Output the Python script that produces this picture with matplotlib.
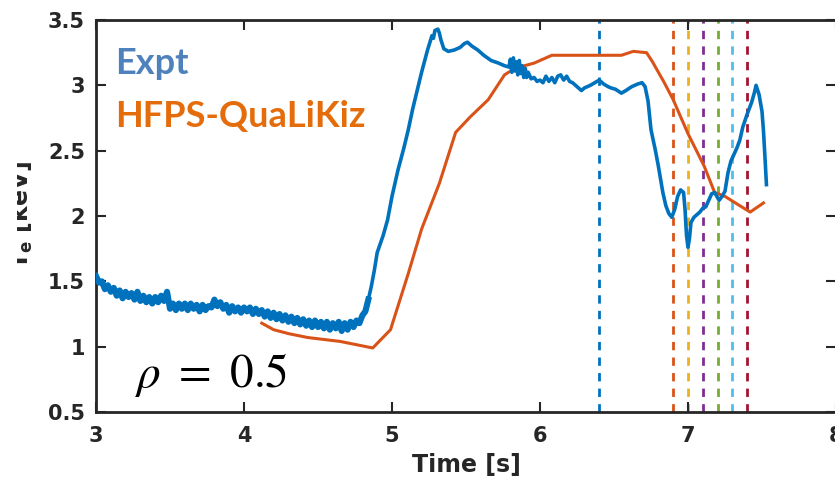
import numpy as np
import matplotlib
matplotlib.use("Agg")
import matplotlib.pyplot as plt
from matplotlib.patches import Rectangle

# measured electron temperature at rho = 0.5 (keV)
t_expt = [3.00, 3.02, 3.04, 3.06, 3.08, 3.10, 3.12, 3.14, 3.16, 3.18,
          3.20, 3.22, 3.24, 3.26, 3.28, 3.30, 3.32, 3.34, 3.36, 3.38,
          3.40, 3.42, 3.44, 3.46, 3.48, 3.50, 3.52, 3.54, 3.56, 3.58,
          3.60, 3.62, 3.64, 3.66, 3.68, 3.70, 3.72, 3.74, 3.76, 3.78,
          3.80, 3.82, 3.84, 3.86, 3.88, 3.90, 3.92, 3.94, 3.96, 3.98,
          4.00, 4.02, 4.04, 4.06, 4.08, 4.10, 4.12, 4.14, 4.16, 4.18,
          4.20, 4.22, 4.24, 4.26, 4.28, 4.30, 4.32, 4.34, 4.36, 4.38,
          4.40, 4.42, 4.44, 4.46, 4.48, 4.50, 4.52, 4.54, 4.56, 4.58,
          4.60, 4.62, 4.64, 4.66, 4.68, 4.70, 4.72, 4.74, 4.76, 4.78,
          4.80, 4.82, 4.84, 4.86, 4.88, 4.90, 4.94, 4.97, 5.00, 5.04,
          5.08, 5.11, 5.14, 5.17, 5.20, 5.24, 5.27, 5.28, 5.29, 5.31,
          5.32, 5.33, 5.35, 5.38, 5.42, 5.46, 5.49, 5.51, 5.54, 5.58,
          5.62, 5.67, 5.72, 5.76, 5.79, 5.80, 5.81, 5.82, 5.83, 5.84,
          5.85, 5.86, 5.87, 5.88, 5.89, 5.90, 5.91, 5.92, 5.94, 5.96,
          5.98, 6.00, 6.02, 6.04, 6.06, 6.08, 6.10, 6.12, 6.14, 6.16,
          6.18, 6.20, 6.22, 6.24, 6.26, 6.28, 6.30, 6.32, 6.34, 6.37,
          6.40, 6.43, 6.46, 6.48, 6.51, 6.55, 6.58, 6.62, 6.66, 6.69,
          6.71, 6.73, 6.75, 6.78, 6.80, 6.83, 6.85, 6.87, 6.89, 6.91,
          6.93, 6.95, 6.97, 6.98, 6.99, 7.00, 7.01, 7.02, 7.04, 7.06,
          7.08, 7.10, 7.12, 7.14, 7.16, 7.18, 7.20, 7.21, 7.23, 7.25,
          7.27, 7.29, 7.31, 7.33, 7.35, 7.37, 7.40, 7.43, 7.45, 7.46,
          7.48, 7.50, 7.51, 7.52, 7.53]
te_expt = [1.54, 1.49, 1.50, 1.44, 1.47, 1.42, 1.45, 1.39, 1.43, 1.37,
           1.42, 1.38, 1.41, 1.36, 1.42, 1.35, 1.39, 1.34, 1.38, 1.33,
           1.38, 1.34, 1.39, 1.35, 1.42, 1.29, 1.33, 1.28, 1.33, 1.29,
           1.33, 1.28, 1.33, 1.29, 1.32, 1.27, 1.32, 1.28, 1.31, 1.30,
           1.36, 1.31, 1.34, 1.29, 1.32, 1.26, 1.31, 1.27, 1.30, 1.26,
           1.30, 1.27, 1.30, 1.25, 1.29, 1.25, 1.28, 1.23, 1.27, 1.22,
           1.26, 1.21, 1.25, 1.20, 1.24, 1.19, 1.23, 1.18, 1.22, 1.17,
           1.21, 1.16, 1.20, 1.15, 1.20, 1.15, 1.19, 1.14, 1.19, 1.13,
           1.18, 1.14, 1.19, 1.12, 1.18, 1.13, 1.19, 1.15, 1.20, 1.18,
           1.24, 1.27, 1.36, 1.46, 1.58, 1.72, 1.85, 1.97, 2.15, 2.35,
           2.52, 2.66, 2.82, 2.96, 3.10, 3.27, 3.38, 3.36, 3.42, 3.43,
           3.40, 3.35, 3.28, 3.26, 3.27, 3.29, 3.32, 3.33, 3.30, 3.27,
           3.23, 3.19, 3.17, 3.15, 3.14, 3.20, 3.10, 3.21, 3.11, 3.18,
           3.08, 3.19, 3.09, 3.15, 3.06, 3.13, 3.06, 3.10, 3.05, 3.06,
           3.03, 3.04, 3.02, 3.07, 3.03, 3.06, 3.02, 3.07, 3.08, 3.04,
           3.07, 3.03, 3.02, 3.00, 2.98, 2.96, 2.98, 2.99, 3.00, 3.02,
           3.04, 3.01, 2.99, 2.98, 2.97, 2.94, 2.96, 2.99, 3.01, 3.02,
           2.99, 2.88, 2.66, 2.50, 2.38, 2.18, 2.08, 2.02, 1.99, 2.05,
           2.15, 2.20, 2.18, 2.05, 1.85, 1.76, 1.83, 1.95, 1.99, 2.01,
           2.03, 2.06, 2.07, 2.12, 2.17, 2.18, 2.14, 2.12, 2.15, 2.19,
           2.33, 2.42, 2.47, 2.52, 2.58, 2.68, 2.78, 2.87, 2.95, 3.00,
           2.93, 2.80, 2.65, 2.45, 2.24]
n_noisy = 93  # L-mode phase, fluctuating signal up to t = 4.84 s

# HFPS-QuaLiKiz prediction
t_model = [4.12, 4.20, 4.30, 4.43, 4.65, 4.87, 4.99, 5.11, 5.20, 5.32,
           5.43, 5.53, 5.65, 5.76, 5.83, 5.96, 6.08, 6.40, 6.55, 6.63,
           6.72, 6.76, 6.84, 6.90, 7.00, 7.11, 7.18, 7.25, 7.32, 7.42,
           7.51]
te_model = [1.18, 1.13, 1.10, 1.07, 1.04, 0.99, 1.13, 1.56, 1.90, 2.25,
            2.64, 2.76, 2.89, 3.08, 3.13, 3.17, 3.23, 3.23, 3.23, 3.26,
            3.25, 3.18, 3.02, 2.89, 2.63, 2.38, 2.18, 2.15, 2.10, 2.03,
            2.10]

# profile time slices
t_slices = [6.4, 6.9, 7.0, 7.1, 7.2, 7.3, 7.4]
slice_colors = ['#0072BD', '#D95319', '#EDB120', '#7E2F8E',
                '#77AC30', '#4DBEEE', '#A2142F']

W, H = 835, 479
fig = plt.figure(figsize=(W / 100, H / 100), dpi=100)
ax = fig.add_axes([96 / W, (H - 412) / H, 740 / W, 392 / H])

for ts, c in zip(t_slices, slice_colors):
    ax.axvline(ts, color=c, lw=2, ls=(0, (3, 2.6)), zorder=1)

ax.plot(t_model, te_model, color='#D95319', lw=2.2, zorder=2)
ax.plot(t_expt[:n_noisy], te_expt[:n_noisy], color='#0072BD', lw=4.4,
        solid_joinstyle='round', zorder=3)
ax.plot(t_expt[n_noisy - 1:], te_expt[n_noisy - 1:], color='#0072BD',
        lw=2.6, solid_joinstyle='round', zorder=3)

ax.set_xlim(3, 8)
ax.set_ylim(0.5, 3.5)
ax.set_xticks([3, 4, 5, 6, 7, 8])
ax.set_yticks([0.5, 1, 1.5, 2, 2.5, 3, 3.5])
ax.set_yticklabels(['0.5', '1', '1.5', '2', '2.5', '3', '3.5'])

dark = '#262626'
ax.tick_params(direction='in', length=7, width=1.5, colors=dark,
               top=True, right=True, labelsize=15)
ax.tick_params(axis='x', pad=10)
ax.tick_params(axis='y', pad=8)
for lab in ax.get_xticklabels() + ax.get_yticklabels():
    lab.set_fontweight('bold')
for sp in ax.spines.values():
    sp.set_linewidth(2)
    sp.set_color(dark)

ax.set_xlabel('Time [s]', fontsize=17, fontweight='bold', color=dark,
              labelpad=5)

# y label sits mostly outside the visible area
fig.text(21 / W, 1 - 215 / H, r'$\mathbf{T_e}$ [keV]', rotation=90,
         ha='center', va='center', fontsize=17, fontweight='bold',
         color=dark)
fig.patches.append(Rectangle((0, 0), 17 / W, 1, transform=fig.transFigure,
                             facecolor='white', edgecolor='none',
                             zorder=5))

ax.text(0.026, 0.888, 'Expt', transform=ax.transAxes, fontsize=26,
        fontweight='bold', family='Lato', color='#4F81BD', va='center')
ax.text(0.026, 0.753, 'HFPS-QuaLiKiz', transform=ax.transAxes,
        fontsize=26, fontweight='bold', family='Lato', color='#E46C0A',
        va='center')
ax.text(0.053, 0.094, r'$\rho\ =\ 0.5$', transform=ax.transAxes,
        fontsize=34, math_fontfamily='stix', color='black', va='center')

fig.savefig('out.png', dpi=100)
